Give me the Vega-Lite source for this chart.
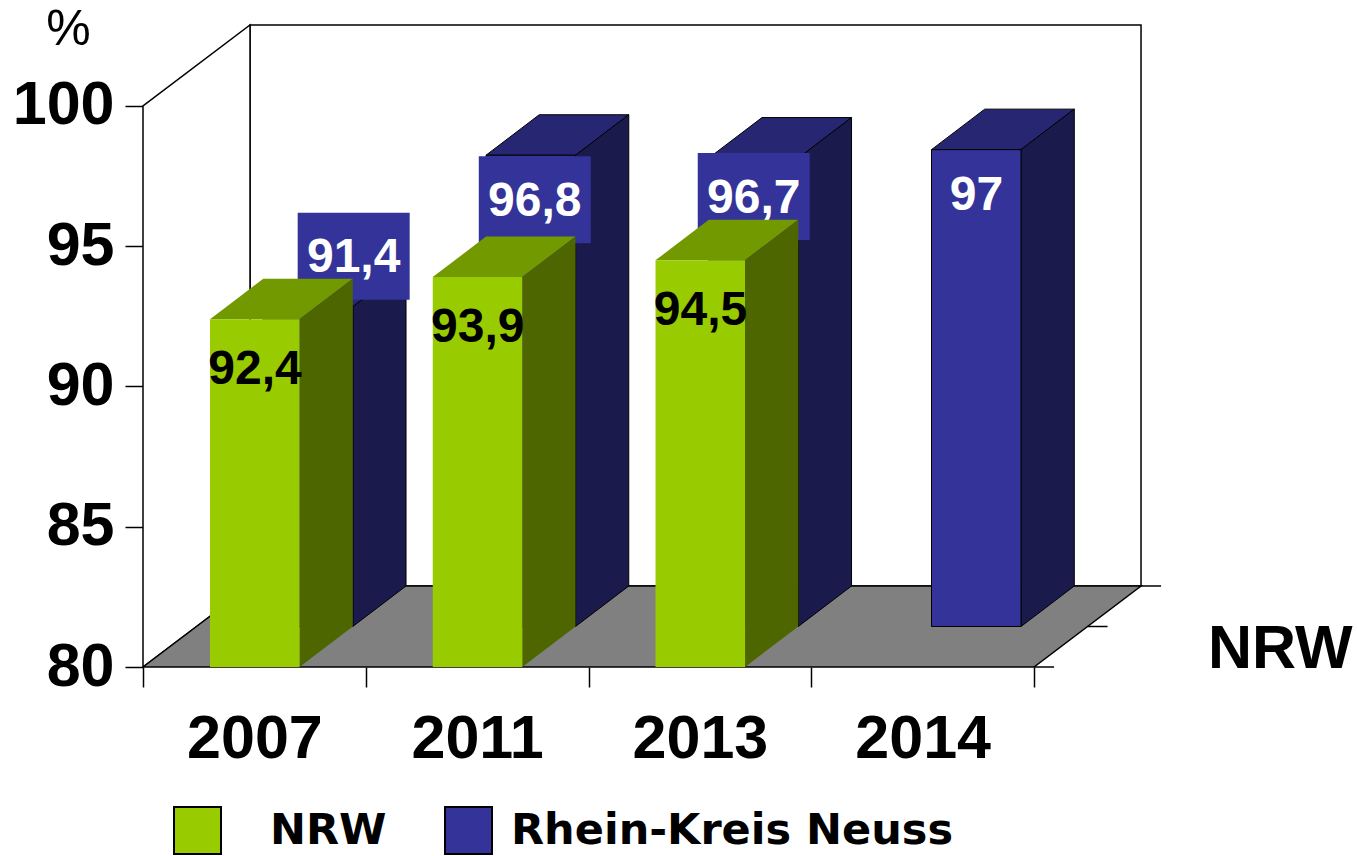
{
"$schema":"https://vega.github.io/schema/vega-lite/v6.json",
"autosize":"none","width":998,"height":643,
"padding":{"left":143,"top":24,"right":216,"bottom":189},
"background":"white",
"config":{"view":{"stroke":null},"text":{"font":"Liberation Sans"}},
"data":{"values":[
{"year":"2007","series":"NRW","value":92.4},
{"year":"2011","series":"NRW","value":93.9},
{"year":"2013","series":"NRW","value":94.5},
{"year":"2007","series":"Rhein-Kreis Neuss","value":91.4},
{"year":"2011","series":"Rhein-Kreis Neuss","value":96.8},
{"year":"2013","series":"Rhein-Kreis Neuss","value":96.7},
{"year":"2014","series":"Rhein-Kreis Neuss","value":97}
]},
"transform":[
{"calculate":"indexof(['2007','2011','2013','2014'],datum.year)","as":"i"},
{"calculate":"datum.series=='NRW'?0:1","as":"back"},
{"calculate":"datum.i+0.3008+datum.back*0.239","as":"x0"},
{"calculate":"datum.x0+0.402","as":"x1"},
{"calculate":"80+datum.back*1.444","as":"base"},
{"calculate":"datum.value+datum.back*1.444","as":"top"},
{"calculate":"replace(toString(datum.value),'.',',')","as":"label"},
{"calculate":"datum.x0+0.202+({'2007':0.204,'2011':0.017,'2013':0,'2014':0})[datum.year]","as":"lx"},
{"calculate":"datum.top+({'2007':1.8,'2011':-1.586,'2013':-1.373,'2014':-1.57})[datum.year]","as":"ly"},
{"calculate":"datum.lx-0.2514","as":"bx0"},
{"calculate":"datum.lx+0.2514","as":"bx1"},
{"calculate":"datum.ly-1.551","as":"by0"},
{"calculate":"datum.ly+1.551","as":"by1"}
],
"layer":[
{"data":{"values":[{"w":"back"}]},
 "mark":{"type":"rect","fill":"white","stroke":"black","strokeWidth":1.5},
 "encoding":{
  "x":{"datum":0.4804,"type":"quantitative","scale":{"domain":[0,4.4803],"nice":false,"zero":false},
   "axis":{"values":[0,0.5,1,1.5,2,2.5,3,3.5,4],"grid":false,"domain":false,"title":null,"tickSize":20,"tickColor":"black","tickWidth":1.5,
    "tickOpacity":{"condition":{"test":"datum.value%1==0","value":1},"value":0},
    "labelExpr":"datum.value==0.5?'2007':datum.value==1.5?'2011':datum.value==2.5?'2013':datum.value==3.5?'2014':''",
    "labelFont":"Liberation Sans","labelFontWeight":"bold","labelFontSize":61,"labelColor":"black","labelPadding":22,"labelOverlap":false,"labelBound":false,"labelFlush":false}},
  "x2":{"datum":4.4804},
  "y":{"datum":82.888,"type":"quantitative","scale":{"domain":[80,102.923],"nice":false,"zero":false},
   "axis":{"values":[80,85,90,95,100],"grid":false,"domain":false,"tickSize":18,"tickColor":"black","tickWidth":1.5,
    "labelFont":"Liberation Sans","labelFontWeight":"bold","labelFontSize":61,"labelColor":"black","labelPadding":11,"labelOverlap":false,"labelBound":false,"labelFlush":false,
    "title":"%","titleAngle":0,"titleX":-75,"titleY":20,"titleAlign":"center","titleBaseline":"alphabetic","titleFont":"Liberation Sans","titleFontWeight":"normal","titleFontSize":50,"titleColor":"black"}},
  "y2":{"datum":102.888}
 }},
{"data":{"values":[{"t":0},{"t":1}]},
 "transform":[{"calculate":"datum.t*0.4804","as":"x"},{"calculate":"80+datum.t*2.888","as":"y"},{"calculate":"100+datum.t*2.888","as":"y2"}],
 "mark":{"type":"area","orient":"vertical","fill":"white","stroke":"black","strokeWidth":1.5},
 "encoding":{"x":{"field":"x","type":"quantitative"},"y":{"field":"y","type":"quantitative"},"y2":{"field":"y2"}}},
{"data":{"values":[{"t":0},{"t":1}]},
 "transform":[{"calculate":"datum.t*0.4804","as":"x"},{"calculate":"4+datum.t*0.4804","as":"x2"},{"calculate":"80+datum.t*2.888","as":"y"}],
 "mark":{"type":"area","orient":"horizontal","fill":"#808080","stroke":"black","strokeWidth":1.5},
 "encoding":{"x":{"field":"x","type":"quantitative"},"x2":{"field":"x2"},"y":{"field":"y","type":"quantitative"}}},
{"data":{"values":[{"t":0},{"t":0.5},{"t":1}]},
 "transform":[{"calculate":"4+datum.t*0.4804","as":"x"},{"calculate":"datum.x+0.09","as":"x2"},{"calculate":"80+datum.t*2.888","as":"y"}],
 "mark":{"type":"rule","color":"black","strokeWidth":1.5},
 "encoding":{"x":{"field":"x","type":"quantitative"},"x2":{"field":"x2"},"y":{"field":"y","type":"quantitative"}}},
{"transform":[{"filter":"datum.back==1"},{"calculate":"[0,1]","as":"t"},{"flatten":["t"]},{"calculate":"datum.x0+datum.t*0.239","as":"a"},{"calculate":"datum.x1+datum.t*0.239","as":"b"},{"calculate":"datum.top+datum.t*1.444","as":"c"}],
 "mark":{"type":"area","orient":"horizontal","fill":"#262673","stroke":"black","strokeWidth":1},
 "encoding":{"detail":{"field":"year"},"x":{"field":"a","type":"quantitative"},"x2":{"field":"b"},"y":{"field":"c","type":"quantitative"}}},
{"transform":[{"filter":"datum.back==1"},{"calculate":"[0,1]","as":"t"},{"flatten":["t"]},{"calculate":"datum.x1+datum.t*0.239","as":"a"},{"calculate":"datum.top+datum.t*1.444","as":"c"},{"calculate":"datum.base+datum.t*1.444","as":"d"}],
 "mark":{"type":"area","orient":"vertical","fill":"#1A1A4D","stroke":"black","strokeWidth":1},
 "encoding":{"detail":{"field":"year"},"x":{"field":"a","type":"quantitative"},"y":{"field":"c","type":"quantitative"},"y2":{"field":"d"}}},
{"transform":[{"filter":"datum.back==1"}],
 "mark":{"type":"rect","stroke":"black","strokeWidth":1},
 "encoding":{"x":{"field":"x0","type":"quantitative"},"x2":{"field":"x1"},"y":{"field":"base","type":"quantitative"},"y2":{"field":"top"},
  "color":{"field":"series","type":"nominal","scale":{"domain":["NRW","Rhein-Kreis Neuss"],"range":["#99CC00","#333399"]},
   "legend":{"orient":"none","legendX":30,"legendY":782,"title":null,"columns":2,"padding":0,"symbolType":"square","symbolSize":2209,"symbolStrokeColor":"black","symbolStrokeWidth":2,"symbolOpacity":1,"labelFont":"DejaVu Sans","labelFontWeight":"bold","labelFontSize":43,"labelColor":"black","labelOffset":18,"columnPadding":54,"labelLimit":600,
    "labelExpr":"datum.value=='NRW'?'\u200b\u00a0\u00a0NRW':datum.value"}}}},
{"transform":[{"filter":"datum.back==1&&datum.year!='2014'"}],
 "mark":{"type":"rect","fill":"#333399"},
 "encoding":{"x":{"field":"bx0","type":"quantitative"},"x2":{"field":"bx1"},"y":{"field":"by0","type":"quantitative"},"y2":{"field":"by1"}}},
{"transform":[{"filter":"datum.back==1"}],
 "mark":{"type":"text","fontSize":48,"fontWeight":"bold","color":"white","baseline":"middle","align":"center","dy":2},
 "encoding":{"x":{"field":"lx","type":"quantitative"},"y":{"field":"ly","type":"quantitative"},"text":{"field":"label"}}},
{"transform":[{"filter":"datum.back==0"},{"calculate":"[0,1]","as":"t"},{"flatten":["t"]},{"calculate":"datum.x0+datum.t*0.239","as":"a"},{"calculate":"datum.x1+datum.t*0.239","as":"b"},{"calculate":"datum.top+datum.t*1.444","as":"c"}],
 "mark":{"type":"area","orient":"horizontal","fill":"#729900"},
 "encoding":{"detail":{"field":"year"},"x":{"field":"a","type":"quantitative"},"x2":{"field":"b"},"y":{"field":"c","type":"quantitative"}}},
{"transform":[{"filter":"datum.back==0"},{"calculate":"[0,1]","as":"t"},{"flatten":["t"]},{"calculate":"datum.x1+datum.t*0.239","as":"a"},{"calculate":"datum.top+datum.t*1.444","as":"c"},{"calculate":"datum.base+datum.t*1.444","as":"d"}],
 "mark":{"type":"area","orient":"vertical","fill":"#4D6600"},
 "encoding":{"detail":{"field":"year"},"x":{"field":"a","type":"quantitative"},"y":{"field":"c","type":"quantitative"},"y2":{"field":"d"}}},
{"transform":[{"filter":"datum.back==0"}],
 "mark":{"type":"rect"},
 "encoding":{"x":{"field":"x0","type":"quantitative"},"x2":{"field":"x1"},"y":{"field":"base","type":"quantitative"},"y2":{"field":"top"},
  "color":{"field":"series","type":"nominal"}}},
{"transform":[{"filter":"datum.back==0"},{"calculate":"datum.x0+0.202","as":"tx"}],
 "mark":{"type":"text","fontSize":48,"fontWeight":"bold","color":"black","baseline":"middle","align":"center","dy":51},
 "encoding":{"x":{"field":"tx","type":"quantitative"},"y":{"field":"top","type":"quantitative"},"text":{"field":"label"}}},
{"data":{"values":[{"name":"NRW"}]},
 "mark":{"type":"text","fontSize":61,"fontWeight":"bold","color":"black","align":"left","baseline":"alphabetic","dy":1},
 "encoding":{"x":{"datum":4.781,"type":"quantitative"},"y":{"datum":80,"type":"quantitative"},"text":{"field":"name"}}}
]
}
